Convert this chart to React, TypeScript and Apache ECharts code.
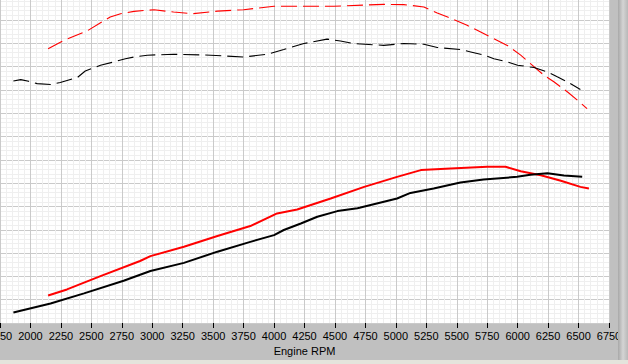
import React, { useEffect, useRef } from "react";
import * as echarts from "echarts";

// Engine RPM axis
const rpmMin = 1750;
const rpmMax = 6750;
const rpmStep = 250;

// Red solid curve [rpm, value]
const redSolid: [number, number][] = [
  [2145, 11.8], [2300, 14.4], [2575, 20.1], [2900, 26.6], [2985, 28.7],
  [3260, 32.7], [3535, 37.3], [3805, 41.6], [4025, 47.0], [4190, 48.7],
  [4465, 53.4], [4740, 58.4], [5010, 62.7], [5205, 65.6], [5450, 66.3],
  [5750, 67.0], [5900, 67.0], [6025, 65.1], [6190, 63.4], [6355, 61.0],
  [6515, 58.4], [6585, 57.7],
];

// Black solid curve [rpm, value]
const blackSolid: [number, number][] = [
  [1860, 4.5], [2165, 8.4], [2440, 12.7], [2765, 18.1], [2985, 22.3],
  [3260, 25.8], [3535, 30.6], [3805, 34.8], [4000, 37.7], [4080, 39.9],
  [4220, 42.7], [4355, 45.6], [4520, 48.0], [4685, 49.2], [5010, 53.4],
  [5120, 55.8], [5310, 57.7], [5530, 60.3], [5720, 61.6], [5995, 62.7],
  [6105, 63.6], [6245, 64.2], [6380, 63.3], [6530, 62.7],
];

// Red dashed curve [rpm, value]
const redDashed: [number, number][] = [
  [2145, 117.7], [2275, 121.3], [2465, 125.3], [2655, 131.3], [2740, 132.7],
  [2850, 133.7], [3015, 134.4], [3175, 133.4], [3330, 132.7], [3535, 133.8],
  [3750, 134.4], [4000, 135.9], [4245, 135.9], [4490, 135.9], [4740, 136.4],
  [4900, 136.7], [5065, 136.6], [5230, 135.6], [5340, 133.0], [5425, 131.3],
  [5585, 127.7], [5805, 122.0], [5915, 119.1], [6025, 114.9], [6105, 111.3],
  [6215, 106.3], [6300, 103.4], [6410, 99.1], [6490, 95.6], [6570, 92.0],
];

// Black dashed curve [rpm, value]
const blackDashed: [number, number][] = [
  [1860, 103.8], [1920, 104.4], [1985, 103.7], [2055, 102.7], [2165, 102.3],
  [2245, 103.2], [2385, 105.3], [2450, 108.1], [2575, 110.6], [2685, 112.0],
  [2780, 113.4], [2850, 114.1], [2960, 114.9], [3175, 115.3], [3480, 114.9],
  [3750, 114.1], [3945, 115.3], [4080, 117.3], [4245, 119.9], [4435, 121.8],
  [4545, 121.0], [4655, 119.9], [4900, 119.1], [5065, 119.9], [5230, 119.6],
  [5340, 118.2], [5530, 117.3], [5615, 116.3], [5725, 114.9], [5805, 113.4],
  [5915, 112.0], [6000, 110.6], [6135, 109.6], [6245, 107.7], [6325, 105.6],
  [6410, 103.4], [6515, 100.2],
];

export default function App() {
  const ref = useRef<HTMLDivElement>(null);
  useEffect(() => {
    if (!ref.current) return;
    const chart = echarts.init(ref.current, undefined, { renderer: "svg" });
    const dashed = (name: string, color: string, data: [number, number][]) => ({
      name,
      type: "line",
      data,
      showSymbol: false,
      symbol: "none",
      lineStyle: { color, width: 1.1, type: [16, 6] },
      z: 2,
    });
    const solid = (name: string, color: string, data: [number, number][]) => ({
      name,
      type: "line",
      data,
      showSymbol: false,
      symbol: "none",
      lineStyle: { color, width: 2 },
      z: 3,
    });
    chart.setOption({
      animation: false,
      backgroundColor: "#c0c0c0",
      grid: {
        left: 0,
        right: 19,
        top: -3.33,
        bottom: 41,
        containLabel: false,
        outerBoundsMode: "none",
        show: true,
        backgroundColor: "#ffffff",
        borderWidth: 0,
      },
      xAxis: {
        type: "value",
        min: rpmMin,
        max: rpmMax,
        interval: rpmStep,
        name: "Engine RPM",
        nameLocation: "middle",
        nameGap: 22,
        nameTextStyle: { color: "#000", fontFamily: "Liberation Sans", fontSize: 11 },
        axisLine: { show: false },
        axisTick: { show: true, length: 5, lineStyle: { color: "#000" } },
        axisLabel: {
          color: "#000",
          fontFamily: "Liberation Sans",
          fontSize: 11,
          margin: 7,
          alignMinLabel: "center",
          alignMaxLabel: "center",
          formatter: (v: number) => String(v),
        },
        splitLine: { show: true, lineStyle: { color: "#cacaca", width: 1 } },
        minorTick: { show: false, splitNumber: 5 },
        minorSplitLine: { show: true, lineStyle: { color: "#efefef", width: 1 } },
      },
      yAxis: {
        type: "value",
        min: 0,
        max: 140,
        interval: 10,
        axisLine: { show: false },
        axisTick: { show: false },
        axisLabel: { show: false },
        splitLine: { show: true, lineStyle: { color: "#cacaca", width: 1 } },
        minorTick: { show: false, splitNumber: 5 },
        minorSplitLine: { show: true, lineStyle: { color: "#efefef", width: 1 } },
      },
      graphic: [
        {
          type: "rect",
          shape: { x: 618, y: 0, width: 10, height: 364 },
          style: {
            fill: new echarts.graphic.LinearGradient(0, 0, 1, 0, [
              { offset: 0, color: "#a8a8a8" },
              { offset: 0.5, color: "#d4d4d4" },
              { offset: 1, color: "#b8b8b8" },
            ]),
          },
          z: 10,
        },
        {
          type: "rect",
          shape: { x: 0, y: 360, width: 628, height: 4 },
          style: { fill: "#e4e4dc" },
          z: 10,
        },
      ],
      series: [
        dashed("Red dashed", "#ff0000", redDashed),
        dashed("Black dashed", "#000000", blackDashed),
        solid("Red solid", "#ff0000", redSolid),
        solid("Black solid", "#000000", blackSolid),
      ],
    });
    return () => chart.dispose();
  }, []);
  return (
    <div
      ref={ref}
      style={{ position: "fixed", left: 0, top: 0, width: 628, height: 364 }}
    />
  );
}
